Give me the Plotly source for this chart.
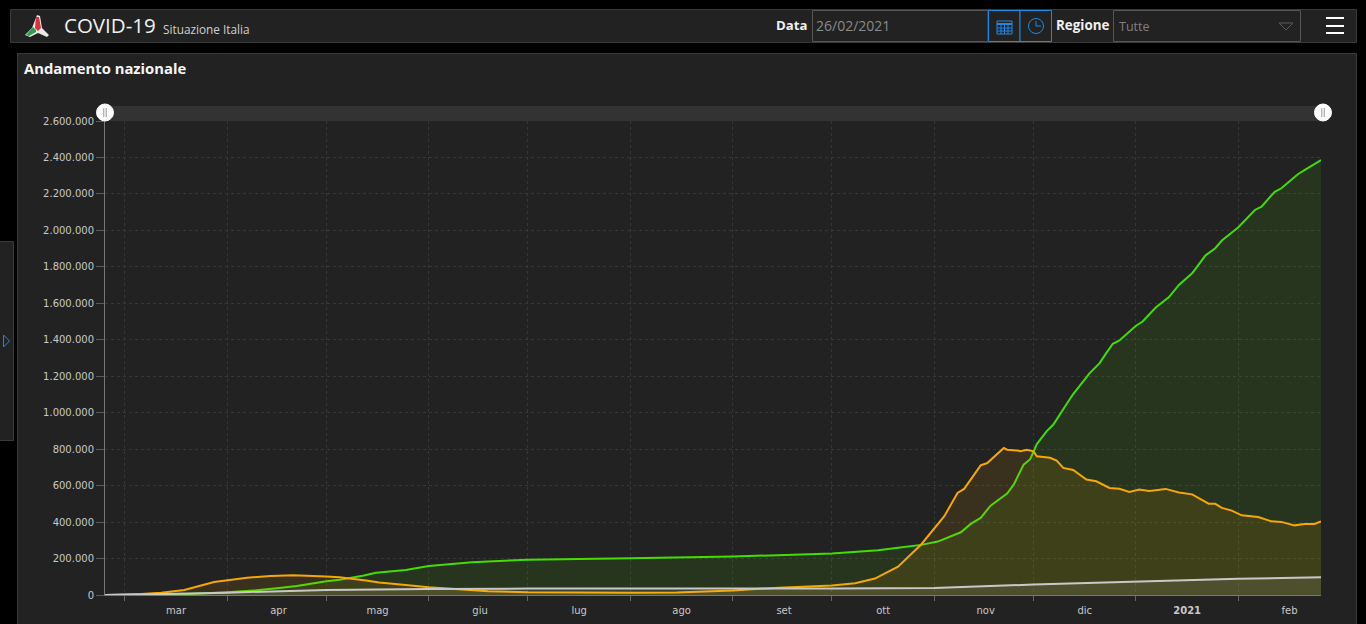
import plotly.graph_objects as go

WIDTH = 1366
HEIGHT = 624
PLOT_L, PLOT_R, PLOT_T, PLOT_B = 105, 1321, 121, 595

recovered_dates = ["2020-02-24", "2020-03-01", "2020-03-17", "2020-04-01", "2020-04-09", "2020-04-16", "2020-04-22",
                   "2020-05-01", "2020-05-05", "2020-05-12", "2020-05-16", "2020-05-25", "2020-06-01", "2020-06-14",
                   "2020-07-01", "2020-08-01", "2020-09-01", "2020-10-01", "2020-10-15", "2020-10-21", "2020-10-28",
                   "2020-11-02", "2020-11-05", "2020-11-09", "2020-11-12", "2020-11-15", "2020-11-18", "2020-11-23",
                   "2020-11-25", "2020-11-28", "2020-11-30", "2020-12-02", "2020-12-05", "2020-12-07", "2020-12-12",
                   "2020-12-13", "2020-12-18", "2020-12-21", "2020-12-23", "2020-12-25", "2020-12-27", "2021-01-01",
                   "2021-01-03", "2021-01-07", "2021-01-11", "2021-01-14", "2021-01-18", "2021-01-22", "2021-01-25",
                   "2021-01-27", "2021-02-01", "2021-02-06", "2021-02-08", "2021-02-12", "2021-02-14", "2021-02-19",
                   "2021-02-21", "2021-02-26"]
recovered = [0, 300, 3000, 15000, 24000, 37000, 49000,
             75000, 84000, 106000, 122000, 137000, 159000, 180000,
             194000, 202000, 211000, 227000, 245000, 259000, 275000,
             293000, 313000, 344000, 390000, 423000, 490000, 556000,
             605000, 715000, 745000, 828000, 899000, 935000, 1075000,
             1102000, 1217000, 1272000, 1327000, 1378000, 1396000, 1477000,
             1500000, 1577000, 1634000, 1701000, 1765000, 1862000, 1902000,
             1944000, 2017000, 2112000, 2130000, 2212000, 2231000, 2308000,
             2331000, 2386000]

positive_dates = ["2020-02-24", "2020-03-06", "2020-03-12", "2020-03-19", "2020-03-28", "2020-04-01", "2020-04-07",
                  "2020-04-14", "2020-04-21", "2020-05-01", "2020-05-05", "2020-05-13", "2020-05-17", "2020-05-25",
                  "2020-06-01", "2020-06-19", "2020-07-01", "2020-08-01", "2020-08-15", "2020-09-01", "2020-09-15",
                  "2020-10-01", "2020-10-08", "2020-10-14", "2020-10-21", "2020-10-28", "2020-11-02", "2020-11-04",
                  "2020-11-08", "2020-11-10", "2020-11-15", "2020-11-17", "2020-11-22", "2020-11-23", "2020-11-26",
                  "2020-11-27", "2020-11-29", "2020-12-01", "2020-12-02", "2020-12-06", "2020-12-08", "2020-12-10",
                  "2020-12-13", "2020-12-17", "2020-12-20", "2020-12-24", "2020-12-27", "2020-12-30", "2021-01-02",
                  "2021-01-05", "2021-01-10", "2021-01-14", "2021-01-18", "2021-01-23", "2021-01-25", "2021-01-27",
                  "2021-01-30", "2021-02-02", "2021-02-07", "2021-02-11", "2021-02-14", "2021-02-18", "2021-02-21",
                  "2021-02-24", "2021-02-26"]
positive = [200, 5000, 13000, 27000, 71000, 80000, 95000,
            104000, 108000, 101000, 97000, 80000, 68000, 55000,
            42000, 21000, 15000, 12000, 14000, 25000, 40000,
            52000, 65000, 90000, 155000, 277000, 392000, 432000,
            560000, 582000, 711000, 724000, 806000, 797000, 792000,
            788000, 797000, 788000, 761000, 753000, 737000, 697000,
            686000, 633000, 624000, 587000, 583000, 565000, 578000,
            571000, 582000, 562000, 552000, 501000, 500000, 478000,
            463000, 437000, 428000, 404000, 401000, 382000, 390000,
            390000, 404000]

death_dates = ["2020-02-24", "2020-03-01", "2020-04-01", "2020-05-01", "2020-06-01", "2020-07-01", "2020-10-01",
               "2020-11-01", "2020-12-01", "2021-01-01", "2021-02-01", "2021-02-26"]
deaths = [0, 1000, 13000, 28000, 33000, 35000, 36000,
          39000, 57000, 75000, 89000, 97000]

month_starts = ["2020-03-01", "2020-04-01", "2020-05-01", "2020-06-01", "2020-07-01", "2020-08-01",
                "2020-09-01", "2020-10-01", "2020-11-01", "2020-12-01", "2021-01-01", "2021-02-01"]
month_centres = ["2020-03-16 12:00", "2020-04-16 12:00", "2020-05-16 12:00", "2020-06-16 12:00",
                 "2020-07-16 12:00", "2020-08-16 12:00", "2020-09-16 12:00", "2020-10-16 12:00",
                 "2020-11-16 12:00", "2020-12-16 12:00", "2021-01-16 12:00", "2021-02-16 12:00"]
month_labels = ["mar", "apr", "mag", "giu", "lug", "ago", "set", "ott", "nov", "dic", "<b>2021</b>", "feb"]
y_ticks = list(range(0, 2800000, 200000))

PANEL = "#222222"
EDGE = "#3a3a3a"
BLUE = "#1e88e5"


# paper coordinates are relative to the plot area, so window pixels go through these
def px(x):
    return (x - PLOT_L) / (PLOT_R - PLOT_L)


def py(y):
    return (PLOT_B - y) / (PLOT_B - PLOT_T)


def rect(x0, y0, x1, y1, fill=None, line=None, layer="below"):
    return dict(type="rect", xref="paper", yref="paper", x0=px(x0), y0=py(y0), x1=px(x1), y1=py(y1),
                fillcolor=fill or "rgba(0,0,0,0)", line=dict(color=line or "rgba(0,0,0,0)", width=1), layer=layer)


def hline(x0, x1, y, color, width=1):
    return dict(type="line", xref="paper", yref="paper", x0=px(x0), x1=px(x1), y0=py(y), y1=py(y),
                line=dict(color=color, width=width), layer="above")


def vline(x, y0, y1, color, width=1):
    return dict(type="line", xref="paper", yref="paper", x0=px(x), x1=px(x), y0=py(y0), y1=py(y1),
                line=dict(color=color, width=width), layer="above")


def poly(points, fill):
    path = "M " + " L ".join("{:.5f},{:.5f}".format(px(x), py(y)) for x, y in points) + " Z"
    return dict(type="path", xref="paper", yref="paper", path=path, fillcolor=fill, line=dict(width=0), layer="above")


def outline(points, color):
    path = "M " + " L ".join("{:.5f},{:.5f}".format(px(x), py(y)) for x, y in points) + " Z"
    return dict(type="path", xref="paper", yref="paper", path=path, line=dict(color=color, width=1), layer="above")


def circle(cx, cy, r, fill, line=None):
    return dict(type="circle", xref="paper", yref="paper", x0=px(cx - r), x1=px(cx + r), y0=py(cy + r), y1=py(cy - r),
                fillcolor=fill, line=dict(color=line or fill, width=1), layer="above")


def label(x, y, text, size, color, anchor="left", family="Open Sans"):
    return dict(xref="paper", yref="paper", x=px(x), y=py(y), text=text, showarrow=False, xanchor=anchor,
                yanchor="middle", borderpad=0, font=dict(family=family, size=size, color=color))


fig = go.Figure()
fig.add_trace(go.Scatter(x=recovered_dates, y=recovered, mode="lines", fill="tozeroy",
                         line=dict(color="#44dd00", width=2), fillcolor="rgba(90,220,0,0.10)"))
fig.add_trace(go.Scatter(x=positive_dates, y=positive, mode="lines", fill="tozeroy",
                         line=dict(color="#f5a800", width=2), fillcolor="rgba(255,165,0,0.11)"))
fig.add_trace(go.Scatter(x=death_dates, y=deaths, mode="lines", fill="tozeroy",
                         line=dict(color="#c8c8c8", width=2), fillcolor="rgba(220,220,220,0.10)"))

shapes = [
    rect(10.5, 9.5, 1356.5, 42.5, PANEL, EDGE),
    rect(17.5, 53.5, 1356.5, 640, PANEL, EDGE),
    rect(-2, 241.5, 13.5, 440.5, PANEL, EDGE),
    rect(812.5, 10.5, 988, 41.5, PANEL, "#555555"),
    rect(1113.5, 10.5, 1300.5, 41.5, PANEL, "#555555"),
    rect(988.5, 10.5, 1020, 41.5, PANEL, BLUE),
    rect(1020, 10.5, 1051.5, 41.5, PANEL, BLUE),
    rect(105, 106, 1322, 121, "#333333"),
    # logo
    poly([(37, 15), (40, 16), (42, 28), (49, 35), (47, 37), (38, 33), (30, 37), (25, 35), (32, 28)], "#e8e8e8"),
    poly([(36, 17), (39, 17), (41, 28), (38, 31), (35, 28)], "#d8333c"),
    poly([(33, 27), (36, 30), (36, 32), (29, 36), (26, 35)], "#2f9e4f"),
    # calendar icon
    rect(997, 21, 1012, 34, None, BLUE, "above"),
    hline(997, 1012, 24, BLUE, 2),
    hline(997, 1012, 28, BLUE),
    hline(997, 1012, 31, BLUE),
    vline(1001, 24, 34, BLUE),
    vline(1004.5, 24, 34, BLUE),
    vline(1008, 24, 34, BLUE),
    # clock icon
    circle(1036, 26, 7.5, "rgba(0,0,0,0)", BLUE),
    vline(1036, 21, 26, BLUE),
    hline(1036, 1041, 26, BLUE),
    # dropdown arrow
    outline([(1279, 23), (1293, 23), (1286, 30)], "#5a5a5a"),
    # menu
    hline(1326, 1344, 18, "white", 2),
    hline(1326, 1344, 26, "white", 2),
    hline(1326, 1344, 33, "white", 2),
    # sidebar arrow
    outline([(3.5, 335), (9.5, 341), (3.5, 347)], BLUE),
    # scrollbar handles
    circle(105, 112.5, 8.5, "white"),
    circle(1323, 112.5, 8.5, "white"),
    vline(103.8, 108, 117, "#999999"),
    vline(106.2, 108, 117, "#999999"),
    vline(1321.8, 108, 117, "#999999"),
    vline(1324.2, 108, 117, "#999999"),
]

annotations = [
    label(62.5, 25.5, "COVID-19", 20.5, "#f0f0f0"),
    label(161.5, 28.5, "Situazione Italia", 11.8, "#d0d0d0"),
    label(22.5, 67.5, "<b>Andamento nazionale</b>", 14.8, "#f5f5f5"),
    label(808, 25.5, "<b>Data</b>", 13.2, "#f0f0f0", "right"),
    label(814.5, 25, "26/02/2021", 14, "#8a8a8a"),
    label(1054.5, 25.5, "<b>Regione</b>", 13.4, "#f0f0f0"),
    label(1117.5, 26.5, "Tutte", 12.5, "#808080"),
]

grid = dict(showgrid=True, griddash="3px,3px", gridcolor="#373737", gridwidth=1)

fig.update_layout(
    width=WIDTH,
    height=HEIGHT,
    autosize=False,
    margin=dict(l=PLOT_L, r=WIDTH - PLOT_R, t=PLOT_T, b=HEIGHT - PLOT_B, pad=0),
    paper_bgcolor="#000000",
    plot_bgcolor="rgba(0,0,0,0)",
    showlegend=False,
    separators=",.",
    shapes=shapes,
    annotations=annotations,
    xaxis=dict(
        type="date",
        automargin=False,
        range=["2020-02-24", "2021-02-26"],
        tickmode="array",
        tickvals=month_centres,
        ticktext=month_labels,
        # the major ticks only hold the labels away from the axis
        ticks="outside",
        ticklen=6,
        tickcolor="rgba(0,0,0,0)",
        showgrid=False,
        zeroline=False,
        showline=True,
        linecolor="#777777",
        tickfont=dict(family="DejaVu Sans", size=10, color="#c8c8c8"),
        minor=dict(tickmode="array", tickvals=month_starts, ticks="outside", ticklen=5, tickcolor="#666666", **grid),
    ),
    yaxis=dict(
        automargin=False,
        range=[0, 2600000],
        tickmode="array",
        tickvals=y_ticks,
        tickformat=",d",
        ticks="outside",
        ticklen=8,
        tickcolor="#5a5a5a",
        zeroline=False,
        showline=True,
        linecolor="#777777",
        tickfont=dict(family="DejaVu Sans", size=10, color="#c8c8c8"),
        **grid,
    ),
)

fig.write_html("out.html", config=dict(displayModeBar=False),
               post_script="document.body.style.margin='0';document.body.style.background='#000';document.body.style.overflow='hidden';")
